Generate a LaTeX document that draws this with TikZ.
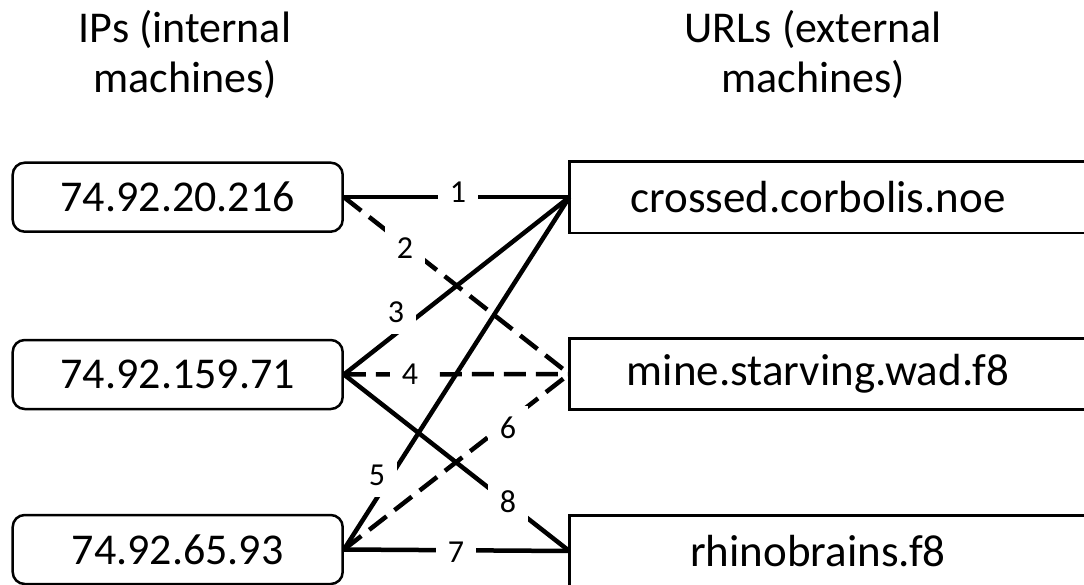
\documentclass[tikz,border=0pt]{standalone}
\usepackage{fontspec}
\setmainfont{Carlito}
\begin{document}
\begin{tikzpicture}[x=1pt,y=-1pt,
  ipbox/.style={draw,line width=2.5pt,rounded corners=12pt,minimum width=330pt,minimum height=69pt,inner sep=0pt,font=\fontsize{44}{53}\selectfont},
  urltext/.style={minimum width=497pt,minimum height=71pt,inner sep=0pt,font=\fontsize{45}{54}\selectfont},
  boxline/.style={line width=2.5pt},
  link/.style={line width=4.5pt},
  dlink/.style={line width=4.5pt,dash pattern=on 22pt off 10pt},
  lbl/.style={fill=white,inner sep=0pt,minimum width=40pt,minimum height=44pt,font=\fontsize{32}{38}\selectfont},
  title/.style={align=center,font=\fontsize{44}{50}\selectfont}]
\useasboundingbox (0,0) rectangle (1084,585);
% titles
\node[title] (t1) at (185,54) {IPs (internal\\machines)};
\node[title] (t2) at (813,54) {URLs (external\\machines)};
% IP boxes
\node[ipbox] (ip1) at (177.7,197.2) {74.92.20.216};
\node[ipbox] (ip2) at (177.7,374.5) {74.92.159.71};
\node[ipbox] (ip3) at (177.7,549.5) {74.92.65.93};
% URL boxes
\node[urltext] (url1) at (818,197.2) {crossed.corbolis.noe};
\node[urltext] (url2) at (818,374) {mine.starving.wad.f8};
\node[urltext] (url3) at (818,551) {rhinobrains.f8};
\foreach \u in {url1,url2,url3}{
  \draw[boxline] ([xshift=100pt]\u.north east) -- (\u.north west) -- (\u.south west) -- ([xshift=100pt]\u.south east);
}
% connectors
\draw[link]  (ip1.east) -- (url1.west);
\draw[dlink] (ip1.east) -- (url2.west);
\draw[link]  (ip2.east) -- (url1.west);
\draw[dlink] (ip2.east) -- (url2.west);
\draw[link]  (ip3.east) -- (url1.west);
\draw[dlink] (ip3.east) -- (url2.west);
\draw[link]  (ip3.east) -- (url3.west);
\draw[link]  (ip2.east) -- (url3.west);
% labels
\node[lbl] (l1) at (458,192) {1};
\node[lbl] (l2) at (405,248) {2};
\node[lbl] (l3) at (396,312) {3};
\node[lbl] (l4) at (410,374) {4};
\node[lbl] (l5) at (377,475) {5};
\node[lbl] (l6) at (508,428) {6};
\node[lbl] (l8) at (508,502) {8};
\node[lbl] (l7) at (456,552) {7};
\end{tikzpicture}
\end{document}
